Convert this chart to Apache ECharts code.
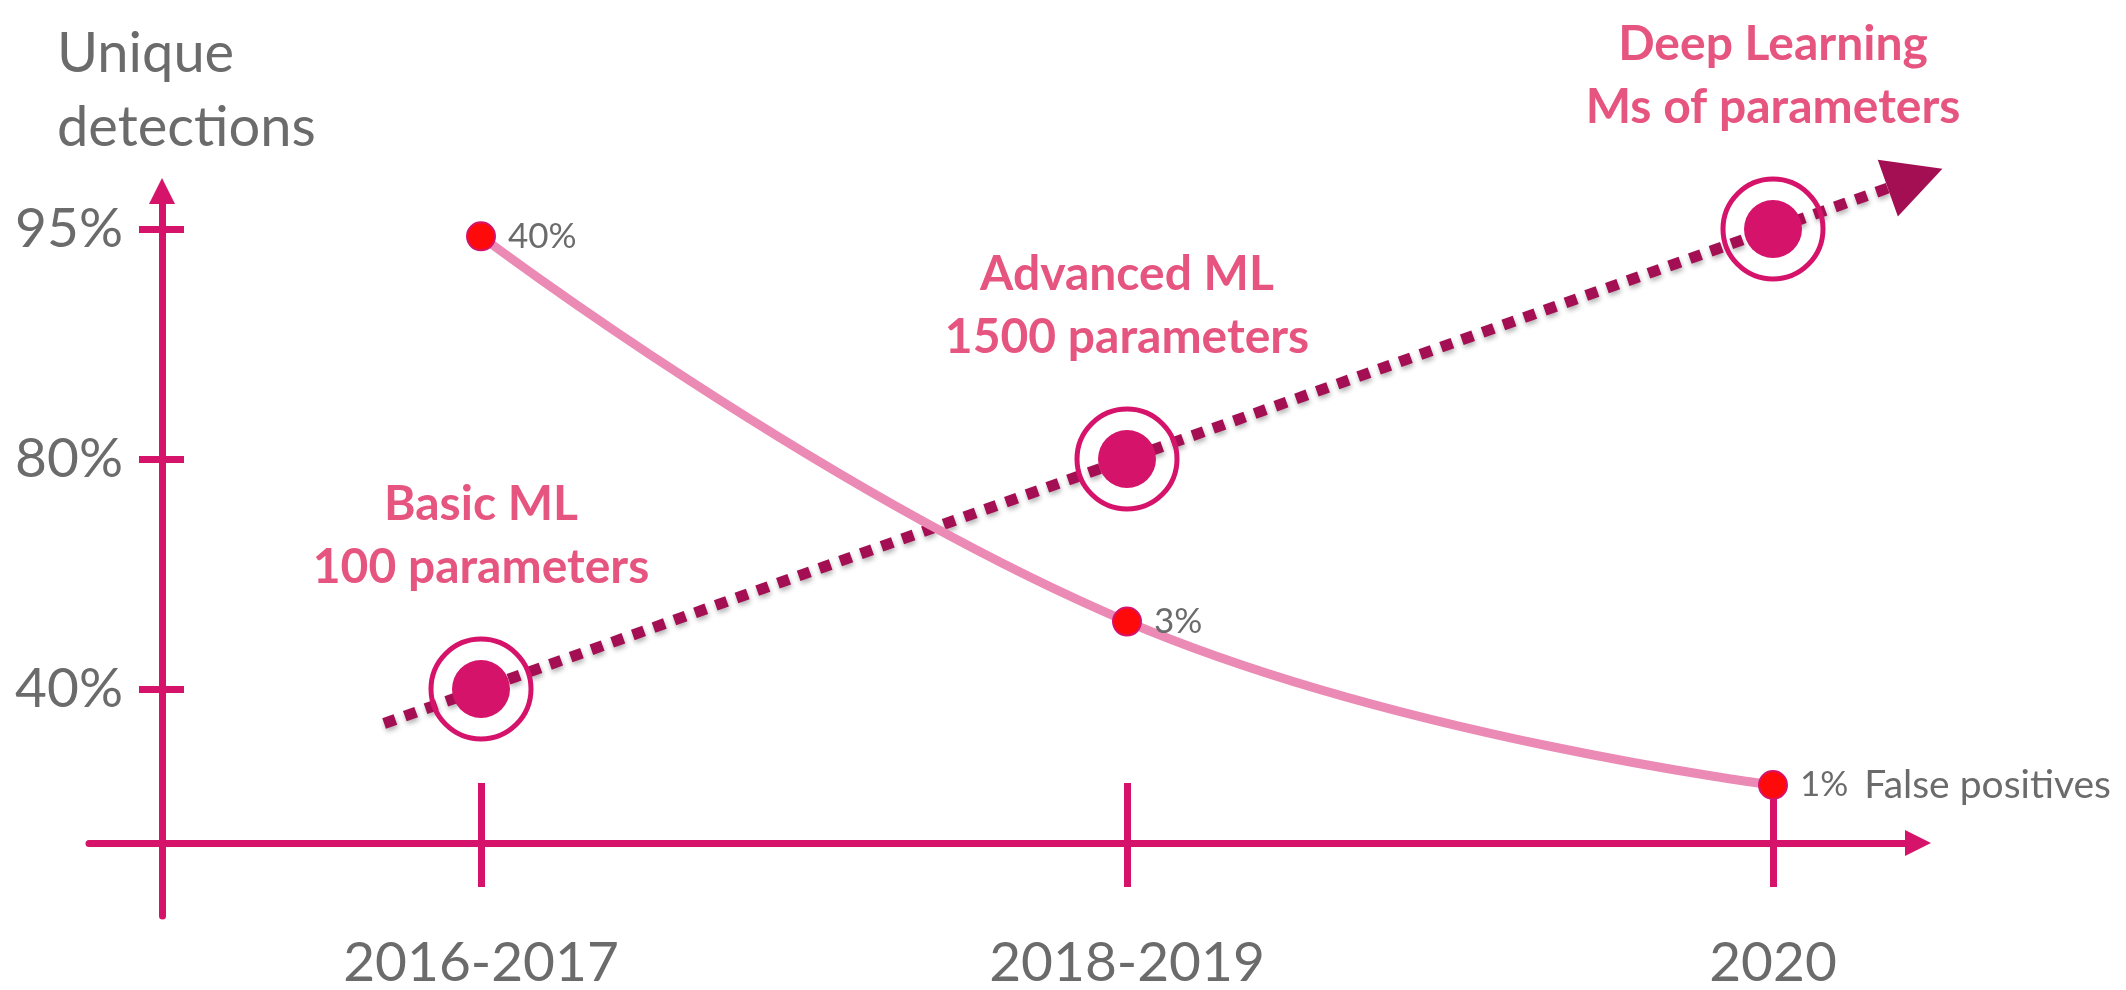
<!DOCTYPE html>
<html>
<head>
<meta charset="utf-8">
<script src="https://cdn.jsdelivr.net/npm/echarts@6/dist/echarts.min.js"></script>
<style>
html,body{margin:0;padding:0;background:#ffffff;}
#chart{width:2126px;height:990px;}
</style>
</head>
<body>
<div id="chart"></div>
<script>
// ---------------- data ----------------
const periods = ['2016-2017', '2018-2019', '2020'];
const detectionLevels = ['40%', '80%', '95%'];          // y-axis tick labels
const uniqueDetections = ['40%', '80%', '95%'];         // unique detections per period
const stageNames = ['Basic ML\n100 parameters', 'Advanced ML\n1500 parameters', 'Deep Learning\nMs of parameters'];
const falsePositives = [40, 3, 1];                      // false positives, %
const falsePositivesName = 'False positives';
const yAxisTitle = 'Unique\ndetections';

// ---------------- style ----------------
const FONT = 'Lato';
const AXIS = '#D5136A';
const GREY = '#6B6B6B';
const STAGE = '#E6557F';
const TREND = '#A30F52';
const FP_LINE = '#EA8AB5';

// trend arrow, expressed in category-index space, built from the unique detection points
const idxPts = uniqueDetections.map((v, i) => [i, detectionLevels.indexOf(v)]);
const pA = idxPts[0], pB = idxPts[idxPts.length - 1];
const dX = pB[0] - pA[0], dY = pB[1] - pA[1];
const overshootStart = 0.075, overshootEnd = 0.11;
const trendStart = [pA[0] - overshootStart * dX, pA[1] - overshootStart * dY];
const trendEnd = [pB[0] + overshootEnd * dX, pB[1] + overshootEnd * dY];

const tickStyle = {color: AXIS, width: 7};

const chart = echarts.init(document.getElementById('chart'), null, {renderer: 'canvas'});
chart.setOption({
  animation: false,
  backgroundColor: '#ffffff',
  title: {
    text: yAxisTitle, left: 52, top: 12,
    textStyle: {fontFamily: FONT, fontSize: 56, fontWeight: 'normal', color: GREY, lineHeight: 74}
  },
  grid: [
    {left: 158, right: 30, top: 114, bottom: 186, containLabel: false, outerBoundsMode: 'none'},
    {left: 89, right: 208, top: 191, bottom: 74, containLabel: false, outerBoundsMode: 'none'}
  ],
  xAxis: [
    {type: 'category', gridIndex: 0, data: periods, position: 'bottom', offset: 39, boundaryGap: true,
     axisLine: {show: false, onZero: false},
     axisTick: {show: true, alignWithLabel: true, length: 44, lineStyle: tickStyle},
     axisLabel: {show: true, margin: 93, fontFamily: FONT, fontSize: 55, color: GREY},
     splitLine: {show: false}},
    {type: 'category', gridIndex: 0, data: periods, position: 'bottom', offset: 39, boundaryGap: true,
     axisLine: {show: false, onZero: false},
     axisTick: {show: true, inside: true, alignWithLabel: true, length: 60, lineStyle: tickStyle},
     axisLabel: {show: false}, splitLine: {show: false}},
    {type: 'value', gridIndex: 0, min: -0.5, max: periods.length - 0.5, position: 'bottom', show: false,
     axisLine: {onZero: false}},
    {type: 'value', gridIndex: 1, min: 0, max: 1, position: 'bottom', offset: -73,
     axisLine: {show: true, onZero: false, symbol: ['none', 'triangle'], symbolSize: [26, 26], lineStyle: {color: AXIS, width: 7}},
     axisTick: {show: false}, axisLabel: {show: false}, splitLine: {show: false}}
  ],
  yAxis: [
    {type: 'category', gridIndex: 0, data: detectionLevels, position: 'left', offset: -4, boundaryGap: true,
     axisLine: {show: false, onZero: false},
     axisTick: {show: true, alignWithLabel: true, length: 23, lineStyle: tickStyle},
     axisLabel: {show: true, margin: 39, fontFamily: FONT, fontSize: 55, color: GREY},
     splitLine: {show: false}},
    {type: 'category', gridIndex: 0, data: detectionLevels, position: 'left', offset: -4, boundaryGap: true,
     axisLine: {show: false, onZero: false},
     axisTick: {show: true, inside: true, alignWithLabel: true, length: 22, lineStyle: tickStyle},
     axisLabel: {show: false}, splitLine: {show: false}},
    {type: 'value', gridIndex: 0, min: -0.5, max: detectionLevels.length - 0.5, position: 'left', show: false,
     axisLine: {onZero: false}},
    {type: 'log', gridIndex: 0, min: 0.88, max: 91, position: 'right', show: false,
     axisLine: {onZero: false}},
    {type: 'value', gridIndex: 1, min: 0, max: 1, position: 'left', offset: -73,
     axisLine: {show: true, onZero: false, symbol: ['none', 'triangle'], symbolSize: [26, 26], lineStyle: {color: AXIS, width: 7}},
     axisTick: {show: false}, axisLabel: {show: false}, splitLine: {show: false}}
  ],
  series: [
    {
      name: 'trend', type: 'line', xAxisIndex: 2, yAxisIndex: 2, data: [], symbol: 'none', silent: true, z: 1,
      markLine: {
        silent: true, z: 1, symbol: ['none', 'triangle'], symbolSize: [60, 58],
        label: {show: false},
        itemStyle: {color: TREND},
        lineStyle: {color: TREND, width: 11, type: [12, 10], cap: 'butt',
                    shadowBlur: 5, shadowColor: 'rgba(0,0,0,0.3)', shadowOffsetX: 1, shadowOffsetY: 3},
        emphasis: {disabled: true},
        data: [[{coord: trendStart}, {coord: trendEnd}]]
      }
    },
    {
      name: falsePositivesName, type: 'line', xAxisIndex: 0, yAxisIndex: 3, data: falsePositives,
      smooth: 0.45, z: 3, silent: true,
      lineStyle: {color: FP_LINE, width: 9},
      symbol: 'circle', symbolSize: 28,
      itemStyle: {color: '#FF0A0A', borderColor: AXIS, borderWidth: 2, opacity: 1},
      label: {
        show: true, position: 'right', distance: 12,
        formatter: p => p.dataIndex === falsePositives.length - 1
          ? '{v|' + p.value + '%}{n|' + falsePositivesName + '}'
          : '{v|' + p.value + '%}',
        rich: {
          v: {fontFamily: FONT, fontSize: 35, color: GREY},
          n: {fontFamily: FONT, fontSize: 39, color: GREY, padding: [0, 0, 0, 16]}
        }
      }
    },
    {
      name: 'stage ring', type: 'scatter', xAxisIndex: 0, yAxisIndex: 0, z: 4, silent: true,
      data: periods.map((p, i) => [p, uniqueDetections[i]]),
      symbol: 'circle', symbolSize: 100,
      itemStyle: {color: 'rgba(255,255,255,0)', borderColor: AXIS, borderWidth: 5, opacity: 1},
      label: {
        show: true, position: 'top', distance: 37,
        formatter: p => stageNames[p.dataIndex],
        fontFamily: FONT, fontSize: 48, fontWeight: 'bold', color: STAGE, lineHeight: 63, align: 'center'
      }
    },
    {
      name: 'Unique detections', type: 'scatter', xAxisIndex: 0, yAxisIndex: 0, z: 5, silent: true,
      data: periods.map((p, i) => [p, uniqueDetections[i]]),
      symbol: 'circle', symbolSize: 58,
      itemStyle: {color: AXIS, opacity: 1}
    }
  ]
});
</script>
</body>
</html>
